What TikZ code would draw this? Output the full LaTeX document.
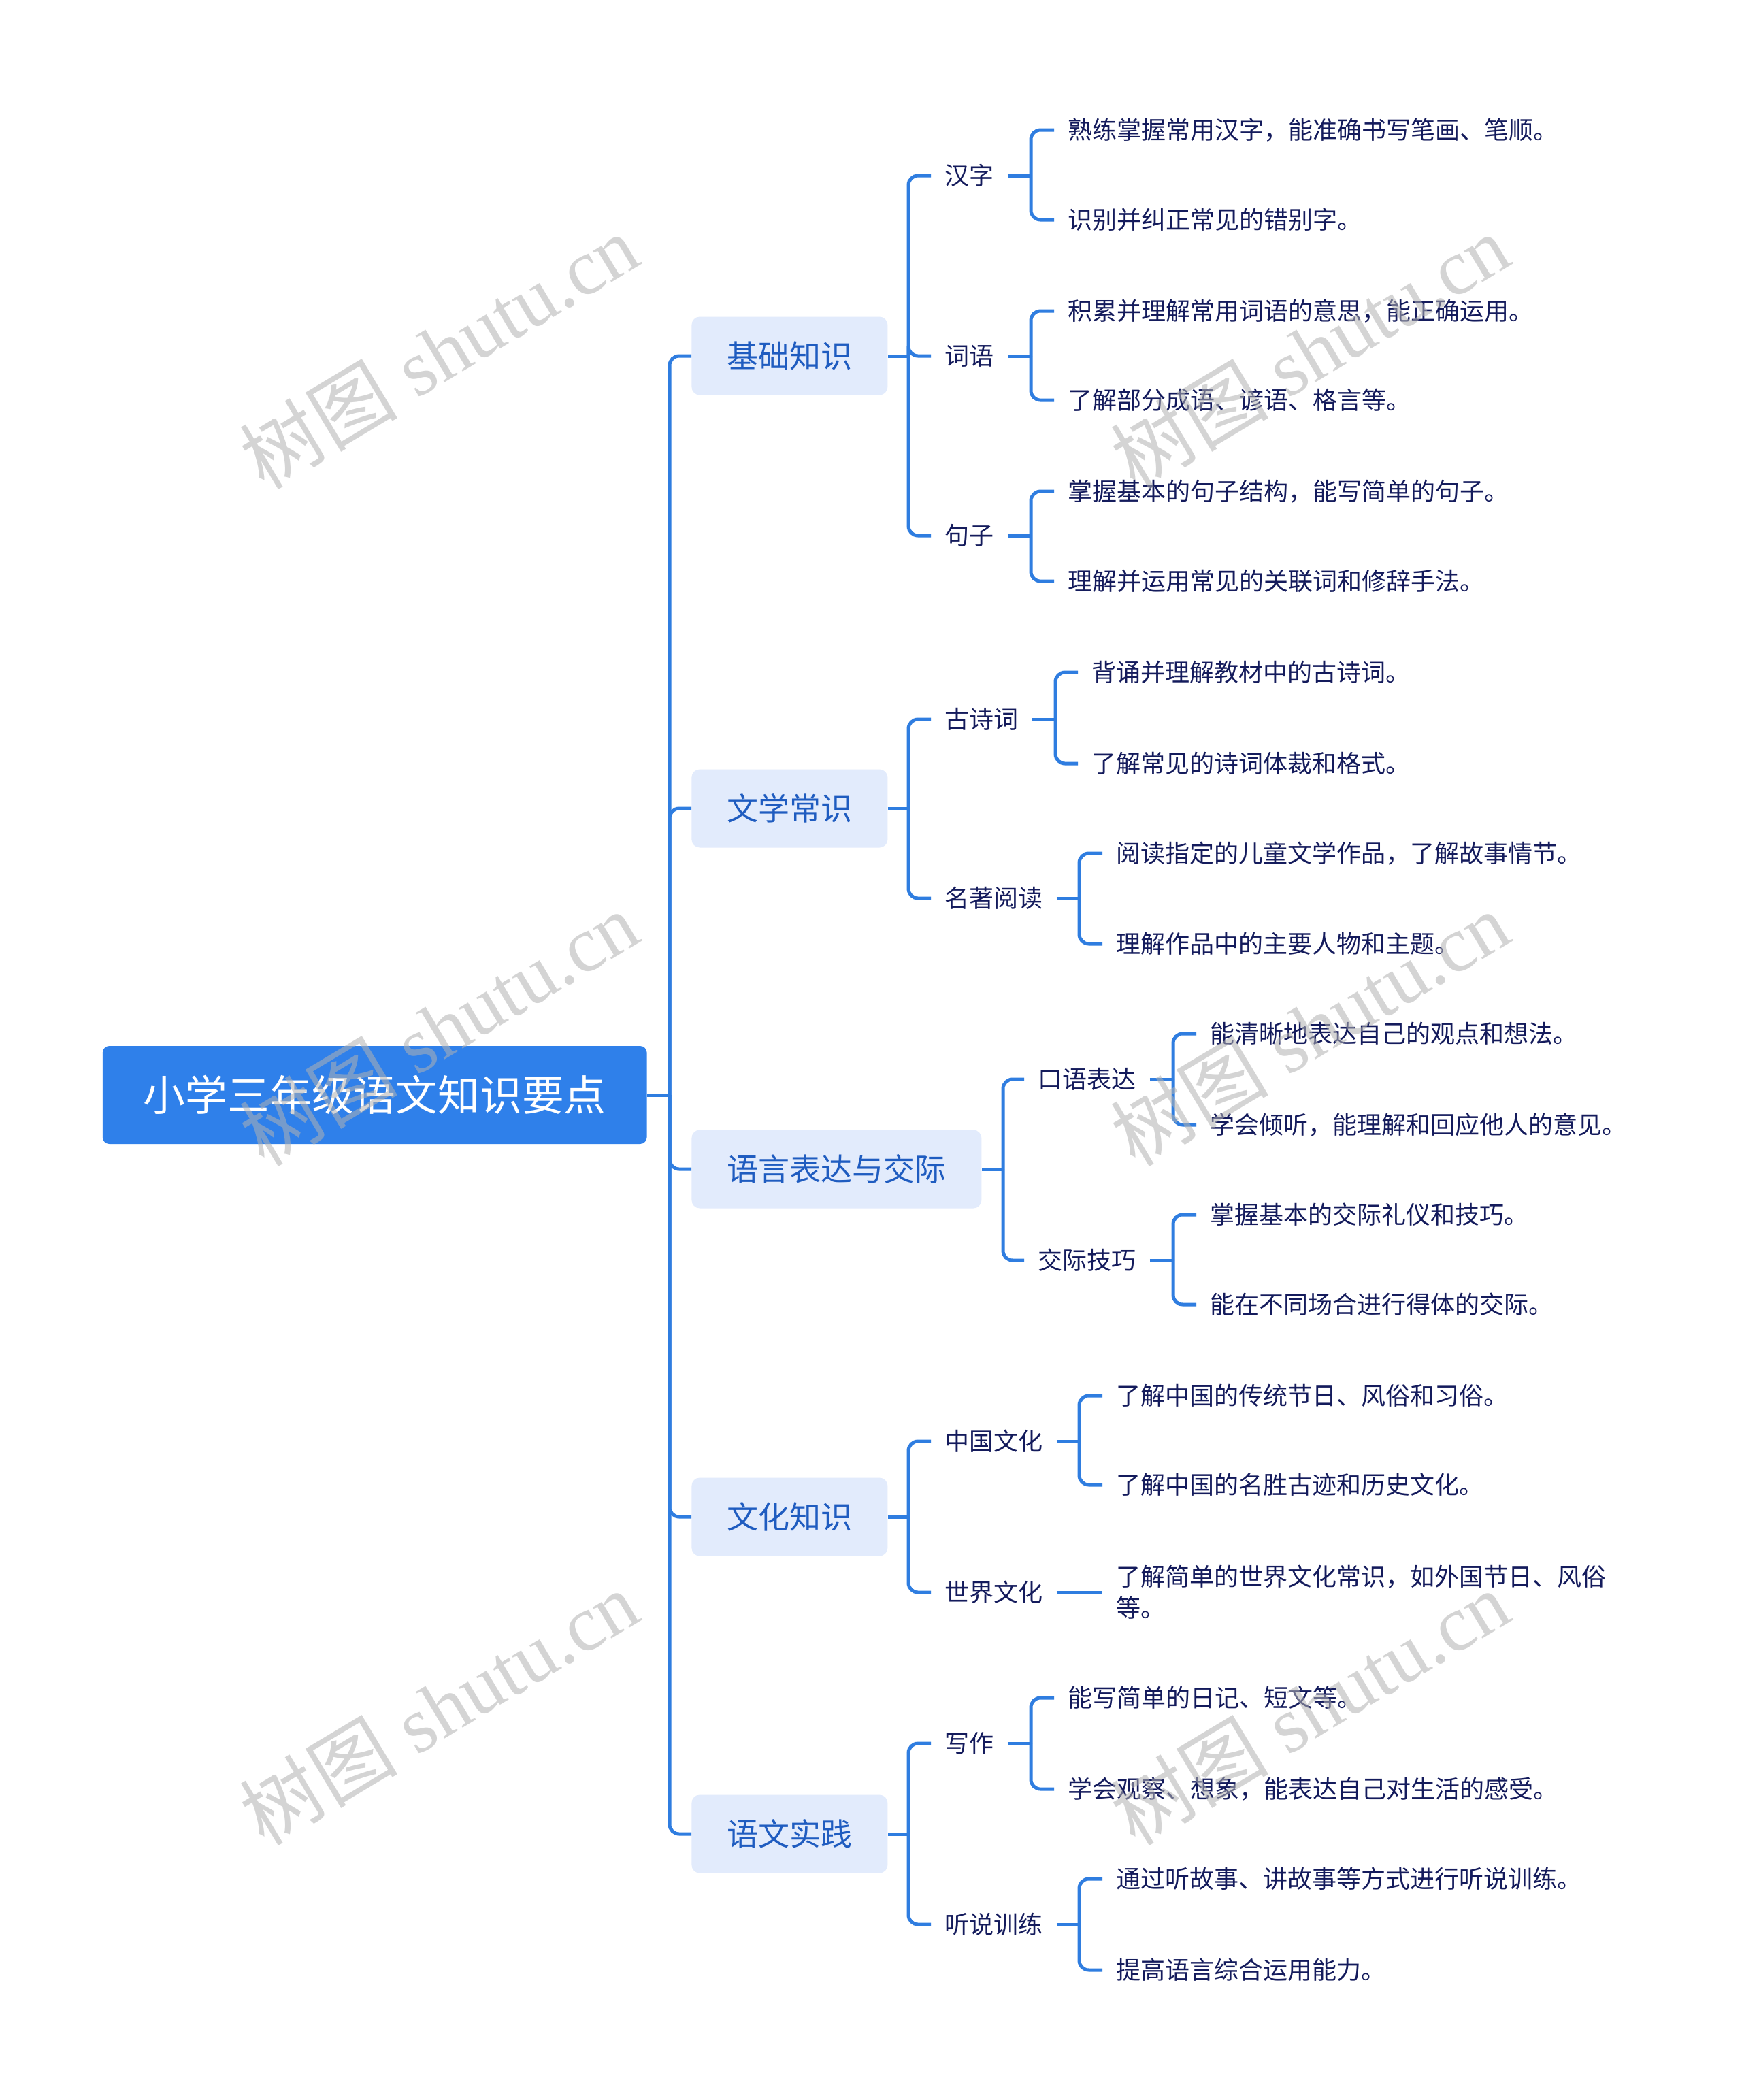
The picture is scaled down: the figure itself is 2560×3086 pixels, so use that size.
\documentclass[tikz,border=0pt]{standalone}
\usepackage{fontspec}
\setmainfont{Noto Sans CJK SC}
\newfontfamily\wmlatin{Liberation Serif}
\newfontfamily\wmcjk{Noto Sans CJK SC}
\definecolor{lineblue}{HTML}{2F7DE0}
\definecolor{rootblue}{HTML}{2F80EA}
\definecolor{boxfill}{HTML}{E2EBFC}
\definecolor{boxtext}{HTML}{1F5CC0}
\definecolor{navy}{HTML}{141B5C}
\tikzset{
  conn/.style={draw=lineblue,line width=2.5pt,rounded corners=7pt},
  rootbox/.style={fill=rootblue,rounded corners=5pt,text=white,font=\fontsize{30.9}{36}\selectfont,minimum height=72pt,inner xsep=30pt,inner ysep=0pt},
  lvlone/.style={fill=boxfill,rounded corners=6pt,text=boxtext,font=\fontsize{23}{28}\selectfont,minimum height=57.5pt,inner xsep=26pt,inner ysep=0pt,anchor=west},
  lvltwo/.style={text=navy,font=\fontsize{18}{23}\selectfont,inner xsep=10pt,inner ysep=3pt,anchor=west},
  leaf/.style={text=navy,font=\fontsize{18}{23}\selectfont,inner xsep=10pt,inner ysep=3pt,anchor=west,align=left},
  wm/.style={text=gray!60,opacity=0.55,rotate=31,inner sep=0pt}
}
\begin{document}
\begin{tikzpicture}[x=0.5pt,y=-0.5pt]
\useasboundingbox (0,0) rectangle (2560,3086);
\fill[white] (0,0) rectangle (2560,3086);

% root
\node[rootbox,anchor=east] (root) at (951,1609) {小学三年级语文知识要点};
\coordinate (j0) at (984,1609);

% level 1
\node[lvlone] (a) at (1016,523) {基础知识};
\node[lvlone] (b) at (1016,1188) {文学常识};
\node[lvlone] (c) at (1016,1718) {语言表达与交际};
\node[lvlone] (d) at (1016,2229) {文化知识};
\node[lvlone] (e) at (1016,2695) {语文实践};

\draw[conn] (root.east) -- (j0);
\foreach \n in {a,b,c,d,e} \draw[conn] (j0) |- (\n.west);

% level 2
\node[lvltwo] (a1) at (1368,258) {汉字};
\node[lvltwo] (a2) at (1368,523) {词语};
\node[lvltwo] (a3) at (1368,787) {句子};
\node[lvltwo] (b1) at (1368,1057) {古诗词};
\node[lvltwo] (b2) at (1368,1320) {名著阅读};
\node[lvltwo] (c1) at (1505,1586) {口语表达};
\node[lvltwo] (c2) at (1505,1852) {交际技巧};
\node[lvltwo] (d1) at (1368,2118) {中国文化};
\node[lvltwo] (d2) at (1368,2340) {世界文化};
\node[lvltwo] (e1) at (1368,2562) {写作};
\node[lvltwo] (e2) at (1368,2828) {听说训练};

\coordinate (ja) at (1335,523);
\coordinate (jb) at (1335,1188);
\coordinate (jc) at (1474,1718);
\coordinate (jd) at (1335,2229);
\coordinate (je) at (1335,2695);
\draw[conn] (a.east) -- (ja);
\draw[conn] (b.east) -- (jb);
\draw[conn] (c.east) -- (jc);
\draw[conn] (d.east) -- (jd);
\draw[conn] (e.east) -- (je);
\foreach \n in {a1,a2,a3} \draw[conn] (ja) |- (\n.west);
\foreach \n in {b1,b2} \draw[conn] (jb) |- (\n.west);
\foreach \n in {c1,c2} \draw[conn] (jc) |- (\n.west);
\foreach \n in {d1,d2} \draw[conn] (jd) |- (\n.west);
\foreach \n in {e1,e2} \draw[conn] (je) |- (\n.west);

% leaves
\node[leaf] (a1x) at (1549,191) {熟练掌握常用汉字，能准确书写笔画、笔顺。};
\node[leaf] (a1y) at (1549,323) {识别并纠正常见的错别字。};
\node[leaf] (a2x) at (1549,457) {积累并理解常用词语的意思，能正确运用。};
\node[leaf] (a2y) at (1549,588) {了解部分成语、谚语、格言等。};
\node[leaf] (a3x) at (1549,722) {掌握基本的句子结构，能写简单的句子。};
\node[leaf] (a3y) at (1549,854) {理解并运用常见的关联词和修辞手法。};
\node[leaf] (b1x) at (1584,988) {背诵并理解教材中的古诗词。};
\node[leaf] (b1y) at (1584,1122) {了解常见的诗词体裁和格式。};
\node[leaf] (b2x) at (1620,1254) {阅读指定的儿童文学作品，了解故事情节。};
\node[leaf] (b2y) at (1620,1387) {理解作品中的主要人物和主题。};
\node[leaf] (c1x) at (1758,1519) {能清晰地表达自己的观点和想法。};
\node[leaf] (c1y) at (1758,1653) {学会倾听，能理解和回应他人的意见。};
\node[leaf] (c2x) at (1758,1785) {掌握基本的交际礼仪和技巧。};
\node[leaf] (c2y) at (1758,1917) {能在不同场合进行得体的交际。};
\node[leaf] (d1x) at (1620,2051) {了解中国的传统节日、风俗和习俗。};
\node[leaf] (d1y) at (1620,2182) {了解中国的名胜古迹和历史文化。};
\node[leaf] (d2x) at (1620,2340) {了解简单的世界文化常识，如外国节日、风俗\\等。};
\node[leaf] (e1x) at (1549,2495) {能写简单的日记、短文等。};
\node[leaf] (e1y) at (1549,2629) {学会观察、想象，能表达自己对生活的感受。};
\node[leaf] (e2x) at (1620,2761) {通过听故事、讲故事等方式进行听说训练。};
\node[leaf] (e2y) at (1620,2895) {提高语言综合运用能力。};

\coordinate (ka1) at (1515,258);
\coordinate (ka2) at (1515,523);
\coordinate (ka3) at (1515,787);
\coordinate (kb1) at (1551,1057);
\coordinate (kb2) at (1586,1320);
\coordinate (kc1) at (1724,1586);
\coordinate (kc2) at (1724,1852);
\coordinate (kd1) at (1586,2118);
\coordinate (ke1) at (1515,2562);
\coordinate (ke2) at (1586,2828);
\foreach \p in {a1,a2,a3,b1,b2,c1,c2,d1,e1,e2}{
  \draw[conn] (\p.east) -- (k\p);
  \draw[conn] (k\p) |- (\p x.west);
  \draw[conn] (k\p) |- (\p y.west);
}
\draw[conn] (d2.east) -- (d2x.west);

% watermarks
\foreach \wx/\wy/\nm in {645/516/w1,645/1511/w2,645/2509/w3,1925/516/w4,1925/1511/w5,1925/2509/w6}
  \node[wm] (\nm) at (\wx,\wy) {\fontsize{58}{62}\selectfont\wmcjk 树图\wmlatin\ shutu.cn};
\end{tikzpicture}
\end{document}
